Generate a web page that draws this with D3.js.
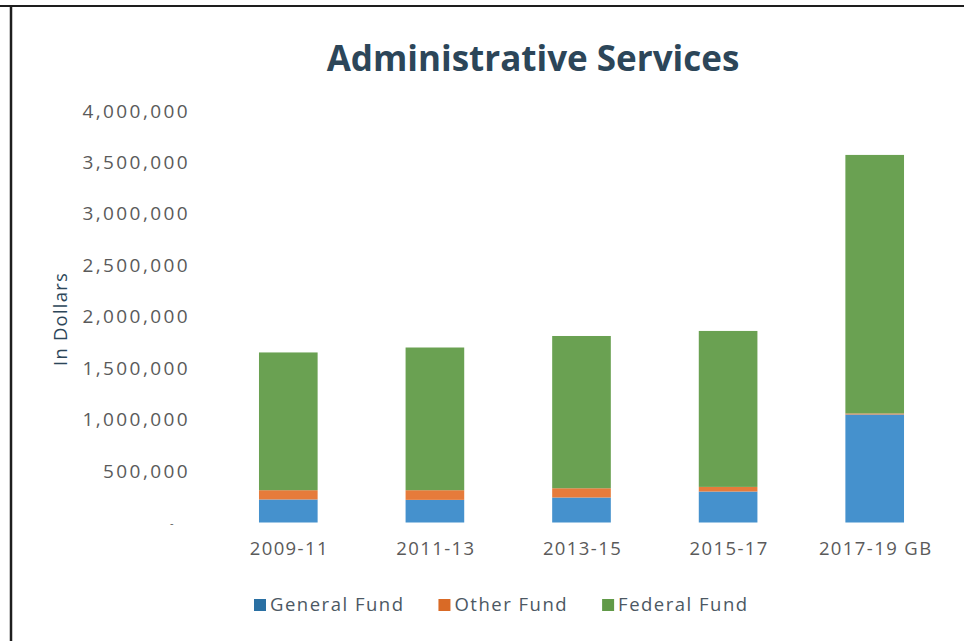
<!DOCTYPE html>
<html>
<head>
<meta charset="utf-8">
<script src="https://cdn.jsdelivr.net/npm/d3@7"></script>
<style>
  html, body { margin: 0; padding: 0; background: #fff; }
  svg { display: block; }
  text { font-family: "Open Sans", "Noto Sans", sans-serif; }
</style>
</head>
<body>
<svg id="chart" width="964" height="641"></svg>
<script>
// Biennium budgets for Administrative Services, in dollars
const categories   = ["2009-11", "2011-13", "2013-15", "2015-17", "2017-19 GB"];
const generalFund  = [224000, 220000, 243000, 301000, 1050000];
const otherFund    = [90000, 94000, 90000, 45000, 10000];
const federalFund  = [1339000, 1387000, 1480000, 1516000, 2513000];
const seriesNames  = ["General Fund", "Other Fund", "Federal Fund"];
const yTickValues  = [0, 500000, 1000000, 1500000, 2000000, 2500000, 3000000, 3500000, 4000000];
const yTickLabels  = ["-", "500,000", "1,000,000", "1,500,000", "2,000,000", "2,500,000", "3,000,000", "3,500,000", "4,000,000"];

const barColors    = ["#4591cd", "#e67b3b", "#6aa152"];
const swatchColors = ["#2a70a3", "#d96a26", "#619a48"];

const svg = d3.select("#chart");

// frame lines along the top and left edges
svg.append("line").attr("x1", 0).attr("x2", 964).attr("y1", 6).attr("y2", 6)
  .attr("stroke", "#1e1e1e").attr("stroke-width", 2.2);
svg.append("line").attr("x1", 11).attr("x2", 11).attr("y1", 5).attr("y2", 641)
  .attr("stroke", "#1e1e1e").attr("stroke-width", 2.5);

// title
svg.append("text")
  .attr("x", 533).attr("y", 71)
  .attr("text-anchor", "middle")
  .attr("font-size", 35).attr("font-weight", 700)
  .attr("fill", "#2c4659")
  .text("Administrative Services");

const x = d3.scaleBand()
  .domain(categories)
  .range([215, 948])
  .paddingInner(0.6)
  .paddingOuter(0.3);

const y = d3.scaleLinear()
  .domain([0, 4000000])
  .range([522.5, 111]);

const rows = categories.map((c, i) => ({
  cat: c,
  "General Fund": generalFund[i],
  "Other Fund": otherFund[i],
  "Federal Fund": federalFund[i]
}));
const stacked = d3.stack().keys(seriesNames)(rows);

svg.append("g").selectAll("g")
  .data(stacked)
  .join("g")
    .attr("fill", (d, i) => barColors[i])
  .selectAll("rect")
  .data(d => d)
  .join("rect")
    .attr("x", d => x(d.data.cat))
    .attr("width", x.bandwidth())
    .attr("y", d => y(d[1]))
    .attr("height", d => y(d[0]) - y(d[1]));

// y axis: labels only
const yAxis = svg.append("g")
  .attr("transform", "translate(194,0)")
  .call(d3.axisLeft(y)
    .tickValues(yTickValues)
    .tickFormat((d, i) => yTickLabels[i])
    .tickSize(0)
    .tickPadding(4));
yAxis.select(".domain").remove();
yAxis.selectAll("text")
  .attr("font-family", "'Open Sans', sans-serif")
  .attr("font-size", 19)
  .attr("letter-spacing", 2.4)
  .attr("fill", "#5a5a5a");
yAxis.selectAll(".tick").filter(d => d === 0).select("text")
  .attr("dx", -14).attr("font-size", 11);

// x axis: labels only
const xAxis = svg.append("g")
  .attr("transform", "translate(0,522.5)")
  .call(d3.axisBottom(x).tickSize(0).tickPadding(19));
xAxis.select(".domain").remove();
xAxis.selectAll("text")
  .attr("font-family", "'Open Sans', sans-serif")
  .attr("font-size", 18.5)
  .attr("letter-spacing", 1.4)
  .attr("dx", 1)
  .attr("fill", "#5a5a5a");

// y axis title
svg.append("text")
  .attr("transform", "translate(67,319) rotate(-90)")
  .attr("text-anchor", "middle")
  .attr("font-size", 18.5)
  .attr("letter-spacing", 1.2)
  .attr("fill", "#2c4659")
  .text("In Dollars");

// legend
const legend = svg.append("g").attr("transform", "translate(254,605)");
let lx = 0;
seriesNames.forEach((name, i) => {
  const g = legend.append("g").attr("transform", `translate(${lx},0)`);
  g.append("rect").attr("x", 0).attr("y", -6).attr("width", 12).attr("height", 12)
    .attr("fill", swatchColors[i]);
  const t = g.append("text")
    .attr("x", 16).attr("y", 0).attr("dy", "0.35em")
    .attr("font-size", 18.5).attr("letter-spacing", 1.5)
    .attr("fill", "#4c5863")
    .text(name);
  lx += 16 + t.node().getComputedTextLength() + 34;
});
</script>
</body>
</html>
